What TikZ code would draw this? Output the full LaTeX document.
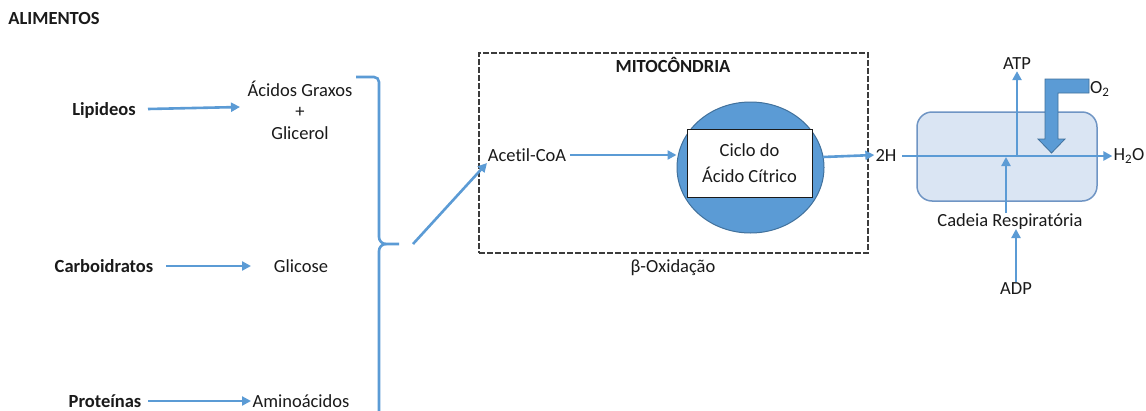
\documentclass[tikz,border=0pt]{standalone}
\usepackage{fontspec}
\setmainfont[Ligatures=NoCommon]{Carlito}
\usetikzlibrary{arrows.meta,shapes.geometric}
\definecolor{flow}{HTML}{5B9BD5}
\definecolor{flowdark}{HTML}{41719C}
\definecolor{cellfill}{HTML}{DAE5F3}
\definecolor{celledge}{HTML}{6F95C4}
\definecolor{ink}{HTML}{1A1A1A}
\tikzset{
  lbl/.style={inner sep=1pt, text=ink, font=\fontsize{18.5}{22}\selectfont},
  blbl/.style={lbl, font=\fontsize{18.5}{22}\selectfont\bfseries},
  flowarrow/.style={draw=flow, line width=2.6pt, -{Triangle[length=9pt,width=9pt]}},
  flowline/.style={draw=flow, line width=2.6pt},
}
\begin{document}
\begin{tikzpicture}[x=1pt,y=-1pt]
\useasboundingbox (0,0) rectangle (1146,410);
\fill[white] (0,0) rectangle (1146,410);

% food groups
\node[blbl] (alim) at (54,18) {ALIMENTOS};
\node[blbl] (lip) at (104,110) {Lipideos};
\node[blbl] (carb) at (104,266) {Carboidratos};
\node[blbl] (prot) at (105,401) {Proteínas};

% products of digestion
\node[lbl, align=center] (acg) at (300,110) {Ácidos Graxos\\[-0.5pt]+\\[-0.5pt]Glicerol};
\node[lbl] (glic) at (301,266) {Glicose};
\node[lbl] (amino) at (301,401) {Aminoácidos};

\coordinate (lipA) at (148,109);
\coordinate (lipB) at (240,107);
\draw[flowarrow] (lipA) -- (lipB);
\coordinate (carbA) at (166,266);
\coordinate (carbB) at (251,266);
\draw[flowarrow] (carbA) -- (carbB);
\coordinate (protA) at (148,401);
\coordinate (protB) at (251,401);
\draw[flowarrow] (protA) -- (protB);

% collecting brace
\coordinate (brTop) at (356,77);
\coordinate (brTip) at (399,244);
\coordinate (brEnd) at (379,416);
\draw[flowline] (brTop) -- (374,77) to[out=0,in=90] (379,82) -- (379,237)
  to[out=-90,in=180] (386,244) -- (brTip);
\draw[flowline] (386,244) to[out=180,in=90] (379,251) -- (brEnd);

% mitochondrion
\node[draw=ink!85, line width=1.6pt, dash pattern=on 6pt off 2pt, minimum width=389pt,
      minimum height=200pt, inner sep=0pt] (mito) at (673.5,153) {};
\node[blbl] (mitolbl) at (673,65) {MITOCÔNDRIA};
\node[lbl] (beta) at (673,268) {β-Oxidação};
\node[lbl] (acetil) at (527,155) {Acetil-CoA};

\coordinate (feedA) at (413,244);
\coordinate (feedB) at (487,163);
\draw[flowarrow] (feedA) -- (feedB);

\node[ellipse, fill=flow, draw=flowdark, line width=1pt, minimum width=147pt,
      minimum height=131pt, inner sep=0pt] (krebs) at (750.5,167.5) {};
\node[draw=ink, line width=1pt, fill=white, minimum width=125pt, minimum height=68pt,
      inner sep=0pt] (cicbox) at (749.5,163) {};
\node[lbl, align=center] (ciclo) at (cicbox.center) {Ciclo do\\[4pt]Ácido Cítrico};

\coordinate (acA) at (570,155);
\draw[flowarrow] (acA) -- (krebs.west |- acA);

% respiratory chain
\node[lbl] (twoH) at (886,155) {2H};
\coordinate (krebsOut) at (823,157);
\draw[flowarrow] (krebsOut) -- (twoH.west);

\node[draw=celledge, fill=cellfill, line width=1.5pt, rounded corners=15pt,
      minimum width=180pt, minimum height=89pt, inner sep=0pt] (chain) at (1007,156.5) {};

\node[lbl] (water) at (1129,156) {H\textsubscript{2}O};
\node[lbl] (atp) at (1017,64) {ATP};
\node[lbl] (adp) at (1016,289) {ADP};
\node[lbl] (cadeia) at (1010,222) {Cadeia Respiratória};
\node[lbl, anchor=west] (oxy) at (1089,89) {O\textsubscript{2}};

\coordinate (hA) at (902,156);
\coordinate (atpRoot) at (1017,156);
\draw[flowarrow] (hA) -- (water.west |- hA);
\draw[flowarrow] (atpRoot) -- (atp.south);
\draw[flowarrow] (cadeia.north -| 1006,0) -- (1006,157);
\draw[flowarrow] (adp.north) -- (1016,229);

% oxygen feed, a thick bent arrow
\fill[flow, draw=flowdark, line width=0.8pt]
  (oxy.west |- 0,79) -- (1045,79) -- (1045,139) -- (1038,139) -- (1051.5,153)
  -- (1065,139) -- (1058,139) -- (1058,93) -- (oxy.west |- 0,93) -- cycle;
\end{tikzpicture}
\end{document}
